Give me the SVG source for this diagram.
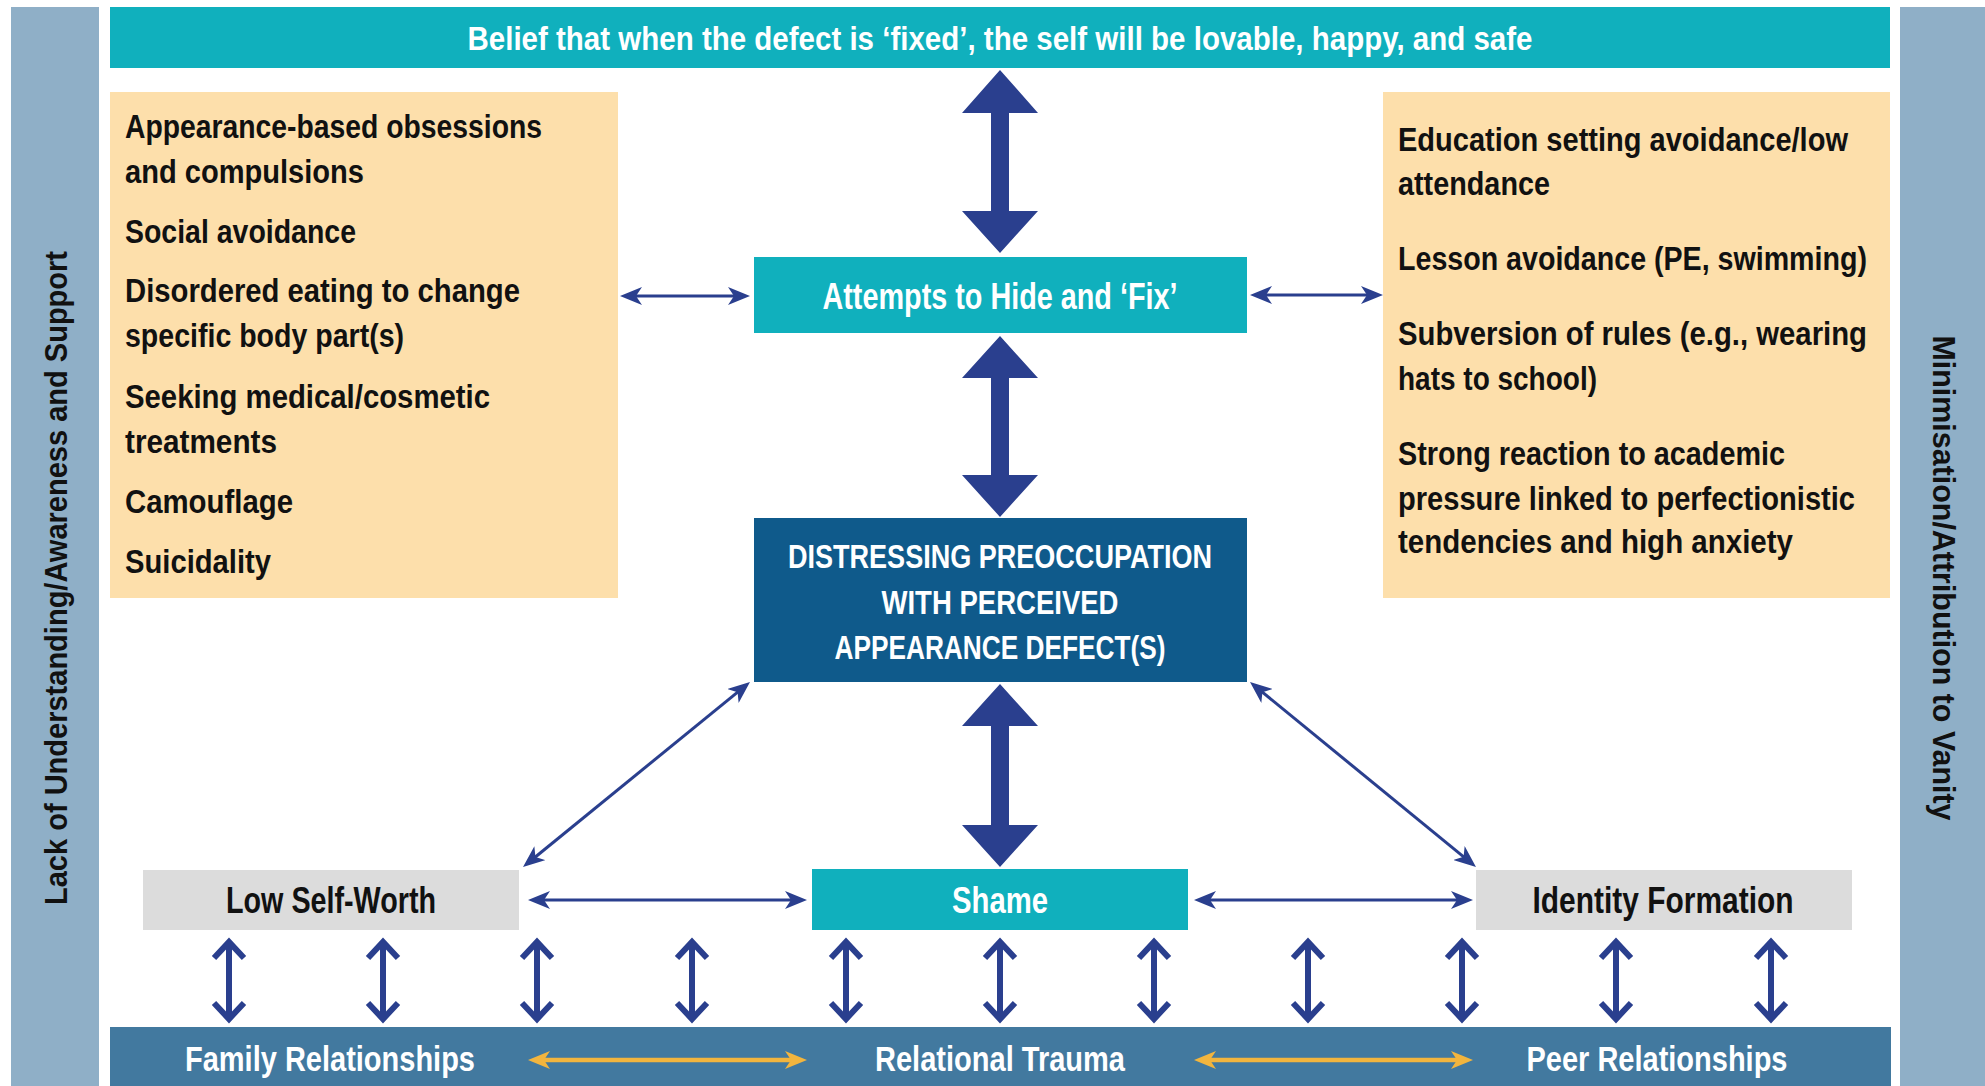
<svg xmlns="http://www.w3.org/2000/svg" width="1985" height="1086" viewBox="0 0 1985 1086">
<style>
  .t{font-family:"Liberation Sans",Arial,sans-serif;font-weight:bold}
  .w{fill:#ffffff}
  .k{fill:#111111}
  .side{fill:#8fafc7}
  .teal{fill:#10b0bd}
  .orange{fill:#fddfab}
  .dark{fill:#0f5a8b}
  .grey{fill:#dcdcdc}
  .bar{fill:#42799f}
  .big{fill:#2a3f8e}
  .thin{stroke:#2a3f8e;stroke-width:3;fill:none}
  .gold{stroke:#f2b53e;stroke-width:4.5;fill:none}
  .dbl{stroke:#2a3f8e;stroke-width:6;fill:none;stroke-linejoin:miter;stroke-linecap:butt}
</style>
<defs>
  <marker id="ah" viewBox="0 0 22 18" refX="14" refY="9" markerWidth="22" markerHeight="18" markerUnits="userSpaceOnUse" orient="auto-start-reverse">
    <path d="M0,0 L22,9 L0,18 L6,9 Z" fill="#2a3f8e"/>
  </marker>
  <marker id="ag" viewBox="0 0 22 18" refX="14" refY="9" markerWidth="22" markerHeight="18" markerUnits="userSpaceOnUse" orient="auto-start-reverse">
    <path d="M0,0 L22,9 L0,18 L6,9 Z" fill="#f2b53e"/>
  </marker>
</defs>
<rect width="1985" height="1086" fill="#ffffff"/>

<g id="sidebar-left">
  <rect class="side" x="11" y="7" width="88" height="1079"/>
  <text class="t k" font-size="32" text-anchor="middle" textLength="654" lengthAdjust="spacingAndGlyphs" transform="translate(56,578) rotate(-90)" x="0" y="11">Lack of Understanding/Awareness and Support</text>
</g>
<g id="sidebar-right">
  <rect class="side" x="1900" y="7" width="85" height="1079"/>
  <text class="t k" font-size="32" text-anchor="middle" textLength="485" lengthAdjust="spacingAndGlyphs" transform="translate(1944,578) rotate(90)" x="0" y="11">Minimisation/Attribution to Vanity</text>
</g>

<g id="belief">
  <rect class="teal" x="110" y="7" width="1780" height="61"/>
  <text class="t w" font-size="34" x="1000" y="50" text-anchor="middle" textLength="1065" lengthAdjust="spacingAndGlyphs">Belief that when the defect is ‘fixed’, the self will be lovable, happy, and safe</text>
</g>

<g id="behaviours-left">
  <rect class="orange" x="110" y="92" width="508" height="506"/>
  <g class="t k" font-size="33">
    <text x="125" y="138" textLength="417" lengthAdjust="spacingAndGlyphs">Appearance-based obsessions</text>
    <text x="125" y="183" textLength="239" lengthAdjust="spacingAndGlyphs">and compulsions</text>
    <text x="125" y="243" textLength="231" lengthAdjust="spacingAndGlyphs">Social avoidance</text>
    <text x="125" y="302" textLength="395" lengthAdjust="spacingAndGlyphs">Disordered eating to change</text>
    <text x="125" y="347" textLength="279" lengthAdjust="spacingAndGlyphs">specific body part(s)</text>
    <text x="125" y="408" textLength="365" lengthAdjust="spacingAndGlyphs">Seeking medical/cosmetic</text>
    <text x="125" y="453" textLength="152" lengthAdjust="spacingAndGlyphs">treatments</text>
    <text x="125" y="513" textLength="168" lengthAdjust="spacingAndGlyphs">Camouflage</text>
    <text x="125" y="573" textLength="146" lengthAdjust="spacingAndGlyphs">Suicidality</text>
  </g>
</g>

<g id="behaviours-right">
  <rect class="orange" x="1383" y="92" width="507" height="506"/>
  <g class="t k" font-size="33">
    <text x="1398" y="151" textLength="450" lengthAdjust="spacingAndGlyphs">Education setting avoidance/low</text>
    <text x="1398" y="195" textLength="152" lengthAdjust="spacingAndGlyphs">attendance</text>
    <text x="1398" y="270" textLength="469" lengthAdjust="spacingAndGlyphs">Lesson avoidance (PE, swimming)</text>
    <text x="1398" y="345" textLength="469" lengthAdjust="spacingAndGlyphs">Subversion of rules (e.g., wearing</text>
    <text x="1398" y="390" textLength="199" lengthAdjust="spacingAndGlyphs">hats to school)</text>
    <text x="1398" y="465" textLength="387" lengthAdjust="spacingAndGlyphs">Strong reaction to academic</text>
    <text x="1398" y="510" textLength="457" lengthAdjust="spacingAndGlyphs">pressure linked to perfectionistic</text>
    <text x="1398" y="553" textLength="395" lengthAdjust="spacingAndGlyphs">tendencies and high anxiety</text>
  </g>
</g>

<g id="hide-fix">
  <rect class="teal" x="754" y="257" width="493" height="76"/>
  <text class="t w" font-size="37" x="1000" y="309" text-anchor="middle" textLength="355" lengthAdjust="spacingAndGlyphs">Attempts to Hide and ‘Fix’</text>
</g>

<g id="preoccupation">
  <rect class="dark" x="754" y="518" width="493" height="164"/>
  <g class="t w" font-size="33" text-anchor="middle">
    <text x="1000" y="568" textLength="424" lengthAdjust="spacingAndGlyphs">DISTRESSING PREOCCUPATION</text>
    <text x="1000" y="614" textLength="237" lengthAdjust="spacingAndGlyphs">WITH PERCEIVED</text>
    <text x="1000" y="659" textLength="331" lengthAdjust="spacingAndGlyphs">APPEARANCE DEFECT(S)</text>
  </g>
</g>

<g id="low-self-worth">
  <rect class="grey" x="143" y="870" width="376" height="60"/>
  <text class="t k" font-size="36" x="331" y="913" text-anchor="middle" textLength="210" lengthAdjust="spacingAndGlyphs">Low Self-Worth</text>
</g>
<g id="shame">
  <rect class="teal" x="812" y="869" width="376" height="61"/>
  <text class="t w" font-size="36" x="1000" y="913" text-anchor="middle" textLength="96" lengthAdjust="spacingAndGlyphs">Shame</text>
</g>
<g id="identity-formation">
  <rect class="grey" x="1476" y="870" width="376" height="60"/>
  <text class="t k" font-size="36" x="1663" y="913" text-anchor="middle" textLength="261" lengthAdjust="spacingAndGlyphs">Identity Formation</text>
</g>

<g id="relationships-bar">
  <rect class="bar" x="110" y="1027" width="1781" height="59"/>
  <g class="t w" font-size="35" text-anchor="middle">
    <text id="family" x="330" y="1071" textLength="290" lengthAdjust="spacingAndGlyphs">Family Relationships</text>
    <text id="trauma" x="1000" y="1071" textLength="250" lengthAdjust="spacingAndGlyphs">Relational Trauma</text>
    <text id="peer" x="1657" y="1071" textLength="261" lengthAdjust="spacingAndGlyphs">Peer Relationships</text>
  </g>
</g>

<g id="connectors">
  <polygon class="big" points="1000,70 1038,113 1009,113 1009,211 1038,211 1000,253 962,211 991,211 991,113 962,113"/>
  <polygon class="big" points="1000,336 1038,378 1009,378 1009,475 1038,475 1000,517 962,475 991,475 991,378 962,378"/>
  <polygon class="big" points="1000,684 1038,726 1009,726 1009,825 1038,825 1000,867 962,825 991,825 991,726 962,726"/>

  <line class="thin" x1="628" y1="296" x2="742" y2="296" marker-start="url(#ah)" marker-end="url(#ah)"/>
  <line class="thin" x1="1258" y1="295" x2="1375" y2="295" marker-start="url(#ah)" marker-end="url(#ah)"/>
  <line class="thin" x1="743.8" y1="687.1" x2="529.2" y2="862" marker-start="url(#ah)" marker-end="url(#ah)"/>
  <line class="thin" x1="1256.2" y1="687.1" x2="1469.8" y2="861.9" marker-start="url(#ah)" marker-end="url(#ah)"/>
  <line class="thin" x1="536" y1="900" x2="799" y2="900" marker-start="url(#ah)" marker-end="url(#ah)"/>
  <line class="thin" x1="1202" y1="900" x2="1465" y2="900" marker-start="url(#ah)" marker-end="url(#ah)"/>

  <line class="gold" x1="536" y1="1060" x2="799" y2="1060" marker-start="url(#ag)" marker-end="url(#ag)"/>
  <line class="gold" x1="1202" y1="1060" x2="1465" y2="1060" marker-start="url(#ag)" marker-end="url(#ag)"/>

  <g class="dbl">
    <path d="M229,942 V1019 M214,958 L229,942 L244,958 M214,1003 L229,1019 L244,1003"/>
    <path d="M383,942 V1019 M368,958 L383,942 L398,958 M368,1003 L383,1019 L398,1003"/>
    <path d="M537,942 V1019 M522,958 L537,942 L552,958 M522,1003 L537,1019 L552,1003"/>
    <path d="M692,942 V1019 M677,958 L692,942 L707,958 M677,1003 L692,1019 L707,1003"/>
    <path d="M846,942 V1019 M831,958 L846,942 L861,958 M831,1003 L846,1019 L861,1003"/>
    <path d="M1000,942 V1019 M985,958 L1000,942 L1015,958 M985,1003 L1000,1019 L1015,1003"/>
    <path d="M1154,942 V1019 M1139,958 L1154,942 L1169,958 M1139,1003 L1154,1019 L1169,1003"/>
    <path d="M1308,942 V1019 M1293,958 L1308,942 L1323,958 M1293,1003 L1308,1019 L1323,1003"/>
    <path d="M1462,942 V1019 M1447,958 L1462,942 L1477,958 M1447,1003 L1462,1019 L1477,1003"/>
    <path d="M1616,942 V1019 M1601,958 L1616,942 L1631,958 M1601,1003 L1616,1019 L1631,1003"/>
    <path d="M1771,942 V1019 M1756,958 L1771,942 L1786,958 M1756,1003 L1771,1019 L1786,1003"/>
  </g>
</g>
</svg>
